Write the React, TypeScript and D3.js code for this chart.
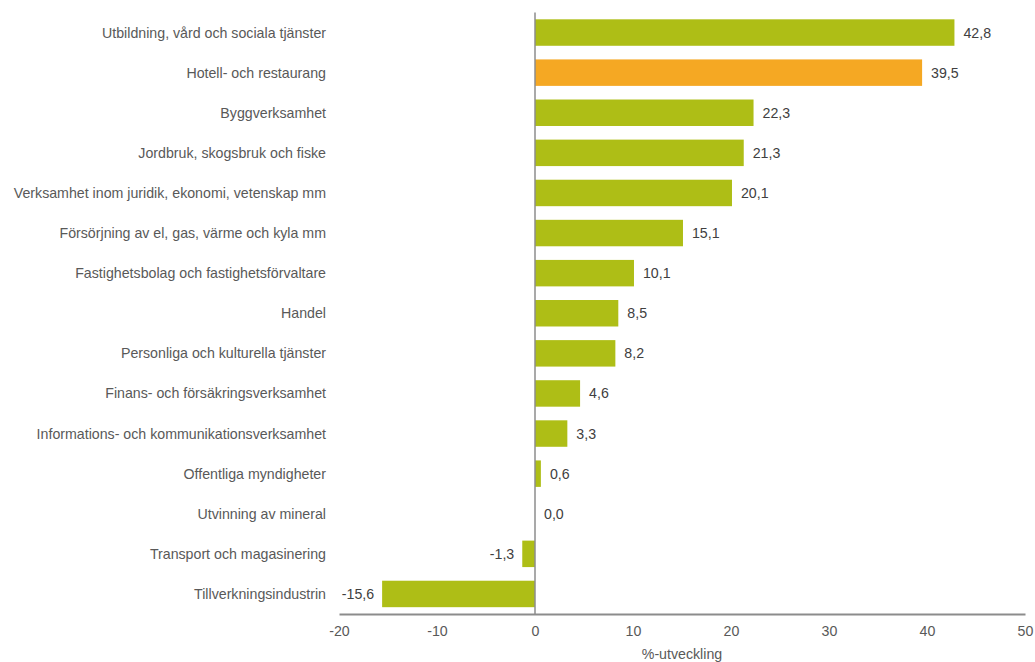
import React, { useEffect, useRef } from 'react';
import * as d3 from 'd3';

const categories = [
    'Utbildning, vård och sociala tjänster',
    'Hotell- och restaurang',
    'Byggverksamhet',
    'Jordbruk, skogsbruk och fiske',
    'Verksamhet inom juridik, ekonomi, vetenskap mm',
    'Försörjning av el, gas, värme och kyla mm',
    'Fastighetsbolag och fastighetsförvaltare',
    'Handel',
    'Personliga och kulturella tjänster',
    'Finans- och försäkringsverksamhet',
    'Informations- och kommunikationsverksamhet',
    'Offentliga myndigheter',
    'Utvinning av mineral',
    'Transport och magasinering',
    'Tillverkningsindustrin'
];
const values = [42.8, 39.5, 22.3, 21.3, 20.1, 15.1, 10.1, 8.5, 8.2, 4.6, 3.3, 0.6, 0.0, -1.3, -15.6];
const highlighted = ['Hotell- och restaurang'];
const xTicks = [-20, -10, 0, 10, 20, 30, 40, 50];
const axisTitle = '%-utveckling';

const width = 1035;
const height = 662;
const margin = { top: 12.5, right: 10, bottom: 48, left: 339 };

const App: React.FC = () => {
    const svgRef = useRef<SVGSVGElement>(null);

    useEffect(() => {
        if (!svgRef.current) return;
        const svg = d3.select(svgRef.current);
        svg.selectAll('*').remove();

        const font = "'Liberation Sans', Arial, sans-serif";
        const fs = 14.2;
        const x = d3.scaleLinear().domain([-20, 50]).range([margin.left, 1025]);
        const y = d3.scaleBand<string>()
            .domain(categories)
            .range([margin.top, height - margin.bottom])
            .paddingInner(0.34)
            .paddingOuter(0.17);

        const data = categories.map((c, i) => ({ c, v: values[i] }));

        // bars
        svg.append('g')
            .selectAll('rect')
            .data(data)
            .enter()
            .append('rect')
            .attr('x', d => x(Math.min(0, d.v)))
            .attr('y', d => y(d.c)!)
            .attr('width', d => Math.abs(x(d.v) - x(0)))
            .attr('height', y.bandwidth())
            .attr('fill', d => highlighted.includes(d.c) ? '#F5A823' : '#AEBE16');

        // value labels
        svg.append('g')
            .selectAll('text')
            .data(data)
            .enter()
            .append('text')
            .attr('x', d => d.v < 0 ? x(d.v) - 8 : x(d.v) + 9)
            .attr('y', d => y(d.c)! + y.bandwidth() / 2)
            .attr('dy', '0.35em')
            .attr('text-anchor', d => d.v < 0 ? 'end' : 'start')
            .attr('font-family', font)
            .attr('font-size', fs)
            .attr('fill', '#404040')
            .text(d => d3.format('.1f')(d.v).replace('.', ',').replace('−', '-'));

        // category labels
        svg.append('g')
            .selectAll('text')
            .data(categories)
            .enter()
            .append('text')
            .attr('x', 326)
            .attr('y', d => y(d)! + y.bandwidth() / 2)
            .attr('dy', '0.35em')
            .attr('text-anchor', 'end')
            .attr('font-family', font)
            .attr('font-size', fs)
            .attr('fill', '#595959')
            .text(d => d);

        // zero line
        svg.append('line')
            .attr('x1', x(0)).attr('x2', x(0))
            .attr('y1', margin.top).attr('y2', height - margin.bottom)
            .attr('stroke', '#8c8c8c')
            .attr('stroke-width', 1.5);

        // x axis
        const axisY = height - margin.bottom;
        const xAxis = d3.axisBottom(x)
            .tickValues(xTicks)
            .tickSize(0)
            .tickPadding(12)
            .tickFormat(d => String(d));
        const gx = svg.append('g')
            .attr('transform', `translate(0,${axisY})`)
            .call(xAxis);
        gx.select('.domain')
            .attr('stroke', '#8c8c8c')
            .attr('stroke-width', 2);
        gx.selectAll('text')
            .attr('font-family', font)
            .attr('font-size', fs)
            .attr('fill', '#595959');

        svg.append('text')
            .attr('x', (x(-20) + x(50)) / 2)
            .attr('y', 659)
            .attr('text-anchor', 'middle')
            .attr('font-family', font)
            .attr('font-size', fs)
            .attr('fill', '#595959')
            .text(axisTitle);
    }, []);

    return (
        <div style={{ position: 'absolute', left: 0, top: 0 }}>
            <svg ref={svgRef} width={width} height={height} />
        </div>
    );
};

export default App;
